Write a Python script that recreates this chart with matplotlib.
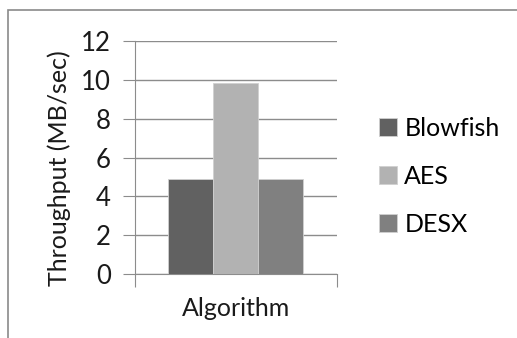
import matplotlib
matplotlib.use('Agg')
import matplotlib.pyplot as plt
from matplotlib.patches import Rectangle

# throughput per algorithm
algorithms = ['Blowfish', 'AES', 'DESX']
throughput = [4.9, 9.85, 4.9]
colors = ['#616161', '#b2b2b2', '#808080']
yticks = [0, 2, 4, 6, 8, 10, 12]

plt.rcParams['font.family'] = ['Lato', 'DejaVu Sans']

fig = plt.figure(figsize=(5.17, 3.38), dpi=100)
fig.patch.set_facecolor('white')

# outer chart frame
fig.patches.append(Rectangle((8 / 517, -0.1), 1.2, (338 - 10) / 338 + 0.1,
                             transform=fig.transFigure, fill=False,
                             edgecolor='#8a8a8a', linewidth=1.2))

ax = fig.add_axes([134.7 / 517, 64.3 / 338, 202 / 517, 232.4 / 338])

w = 0.222
offsets = [-w, 0, w]
for name, val, c, off in zip(algorithms, throughput, colors, offsets):
    ax.bar(off, val, width=w, color=c, edgecolor='#d0d0d0', linewidth=0.6,
           label=name, zorder=3)

ax.set_xlim(-0.5, 0.5)
ax.set_ylim(0, 12)
ax.set_yticks(yticks)
ax.set_yticklabels([str(t) for t in yticks], fontsize=18.5)
ax.set_xticks([-0.5, 0.5])
ax.set_xticklabels(['', ''])
ax.yaxis.grid(True, color='#8c8c8c', linewidth=1.0, zorder=0)
ax.set_axisbelow(True)

for s in ['top', 'right']:
    ax.spines[s].set_visible(False)
ax.spines['left'].set_color('#8c8c8c')
ax.spines['bottom'].set_color('#8c8c8c')
ax.tick_params(axis='y', length=9, color='#8c8c8c', pad=8, labelcolor='#1a1a1a')
ax.tick_params(axis='x', length=9, color='#8c8c8c')

ax.set_ylabel('Throughput (MB/sec)', fontsize=18, color='#1a1a1a')
ax.yaxis.set_label_coords(-0.315, 0.455)
ax.set_xlabel('Algorithm', fontsize=18, color='#1a1a1a', labelpad=4)

ax.legend(loc='center left', bbox_to_anchor=(1.1, 0.42), frameon=False,
          fontsize=18, handlelength=0.7, handleheight=0.7,
          handletextpad=0.3, labelspacing=1.0)

fig.savefig('out.png', dpi=100)
